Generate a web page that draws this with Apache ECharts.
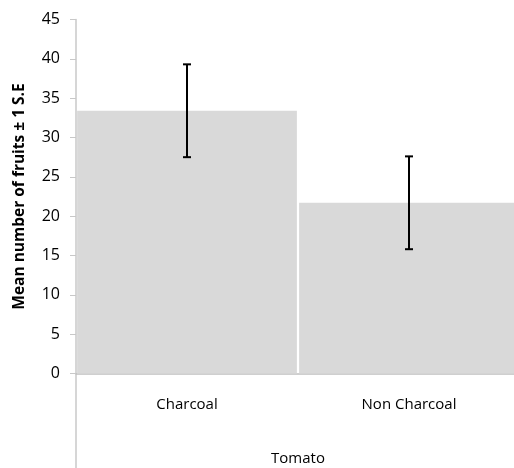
<!DOCTYPE html>
<html><head><meta charset="utf-8">
<script src="https://cdn.jsdelivr.net/npm/echarts@6/dist/echarts.min.js"></script>
<style>html,body{margin:0;padding:0;background:#fff}#c{width:514px;height:468px}</style>
</head><body><div id="c"></div>
<script>
var categories = ['Charcoal', 'Non Charcoal'];
var means = [33.4, 21.7];
var errors = [5.9, 5.9];
var yTicks = [0, 5, 10, 15, 20, 25, 30, 35, 40, 45];
var groupLabel = 'Tomato';
var yTitle = 'Mean number of fruits \u00b1 1 S.E';

var chart = echarts.init(document.getElementById('c'));
var errData = categories.map(function (c, i) { return [i, means[i] - errors[i], means[i] + errors[i]]; });
var font = '"Open Sans", sans-serif';
chart.setOption({
  animation: false,
  grid: { left: 76, top: 19.5, width: 444, height: 354, outerBoundsMode: 'none', containLabel: false },
  xAxis: {
    type: 'category', data: categories,
    name: groupLabel, nameLocation: 'middle', nameGap: 78,
    nameTextStyle: { fontSize: 15, color: '#000', fontFamily: font },
    axisLine: { lineStyle: { color: '#c0c0c0', width: 1.5 } },
    axisTick: { show: false },
    axisLabel: { fontSize: 15, color: '#000', margin: 24, fontFamily: font }
  },
  yAxis: {
    type: 'value', min: yTicks[0], max: yTicks[yTicks.length - 1], interval: 5,
    name: yTitle, nameLocation: 'middle', nameGap: 48,
    nameTextStyle: { fontSize: 15.5, fontWeight: 'bold', color: '#000', fontFamily: font },
    axisLine: { show: true, lineStyle: { color: '#c8c8c8', width: 1.5 } },
    axisTick: { show: true, length: 6, lineStyle: { color: '#c8c8c8' } },
    axisLabel: { fontSize: 16, color: '#000', margin: 16, fontFamily: font },
    splitLine: { show: false }
  },
  series: [{
    type: 'bar', data: means, barCategoryGap: '1%',
    itemStyle: { color: '#d9d9d9' }
  }, {
    type: 'custom', data: errData, z: 10,
    renderItem: function (params, api) {
      var x = api.value(0);
      var lo = api.coord([x, api.value(1)]);
      var hi = api.coord([x, api.value(2)]);
      var s = { stroke: '#000', lineWidth: 2 };
      return { type: 'group', children: [
        { type: 'line', shape: { x1: lo[0], y1: lo[1], x2: hi[0], y2: hi[1] }, style: s },
        { type: 'line', shape: { x1: lo[0] - 4, y1: lo[1], x2: lo[0] + 4, y2: lo[1] }, style: s },
        { type: 'line', shape: { x1: hi[0] - 4, y1: hi[1], x2: hi[0] + 4, y2: hi[1] }, style: s }
      ] };
    }
  }],
  graphic: [{ type: 'line', shape: { x1: 76, y1: 373.5, x2: 76, y2: 468 }, style: { stroke: '#c8c8c8', lineWidth: 1.5 } }]
});
</script></body></html>
